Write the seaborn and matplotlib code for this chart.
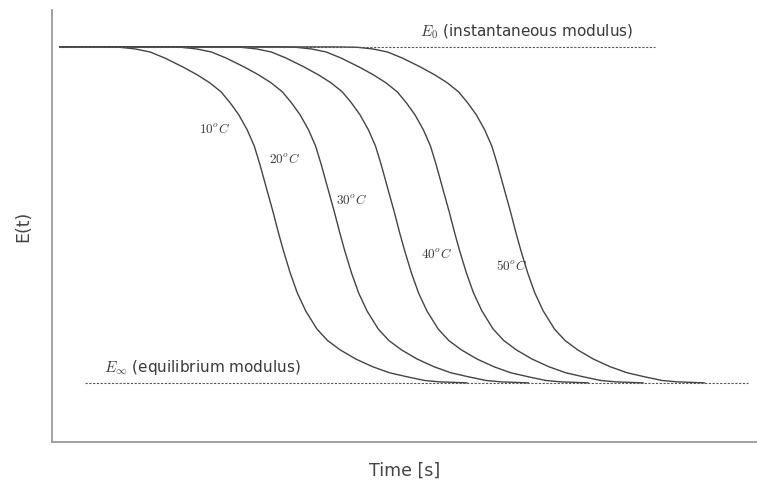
import numpy as np
import pandas as pd
import matplotlib
matplotlib.use("Agg")
import matplotlib.pyplot as plt
import seaborn as sns

# master curve (10°C): time and normalised modulus
t_master = [0.11, 0.68, 0.96, 1.18, 1.39, 1.60, 1.86, 2.06, 2.24, 2.40,
            2.53, 2.65, 2.77, 2.87, 2.95, 3.05, 3.14, 3.21, 3.28, 3.38,
            3.48, 3.60, 3.76, 3.91, 4.09, 4.31, 4.55, 4.79, 5.04, 5.29,
            5.50, 5.89]
e_master = [1.000, 1.000, 0.999, 0.994, 0.985, 0.967, 0.940, 0.917, 0.893, 0.866,
            0.833, 0.798, 0.753, 0.705, 0.650, 0.574, 0.506, 0.449, 0.396, 0.327,
            0.268, 0.214, 0.160, 0.126, 0.098, 0.071, 0.048, 0.030, 0.018, 0.007,
            0.003, 0.000]

temperaturas = ['10', '20', '30', '40', '50']
deslocamentos = [0.0, 0.87, 1.72, 2.50, 3.37]   # shift along time axis
pos_rotulos = [(2.31, 0.755), (3.30, 0.666), (4.25, 0.545), (5.45, 0.385), (6.52, 0.347)]

E0, Einf = 1.0, 0.0
e0_span = (0.11, 8.55)
einf_span = (0.47, 9.87)

sns.set_style("white")
plt.rcParams['font.family'] = ['DejaVu Sans']
plt.rcParams['mathtext.fontset'] = 'cm'

fig = plt.figure(figsize=(7.57, 4.84), dpi=100)
ax = fig.add_axes([0.0687, 0.0868, 0.931, 0.8926])

linhas = []
for temp, d in zip(temperaturas, deslocamentos):
    t = [t_master[0]] + [v + d for v in t_master[1:]]
    linhas.append(pd.DataFrame({'t': t, 'E': e_master, 'T': temp}))
df = pd.concat(linhas, ignore_index=True)

sns.lineplot(data=df, x='t', y='E', hue='T', units='T', estimator=None,
             palette=['#444444'] * len(temperaturas), linewidth=1.0,
             legend=False, sort=False, ax=ax)

ax.hlines(E0, *e0_span, colors='#555555', linestyles=(0, (2, 1.4)), linewidth=0.8)
ax.hlines(Einf, *einf_span, colors='#555555', linestyles=(0, (2, 1.4)), linewidth=0.8)

for temp, (x, y) in zip(temperaturas, pos_rotulos):
    ax.text(x, y, r'$%s^oC$' % temp, fontsize=9.5, color='#3a3a3a', ha='center', va='center')

ax.text(5.22, 1.045, r'$E_0$ (instantaneous modulus)', fontsize=11, color='#3a3a3a',
        ha='left', va='center')
ax.text(0.74, 0.045, r'$E_\infty$ (equilibrium modulus)', fontsize=11, color='#3a3a3a',
        ha='left', va='center')

ax.set_xlim(0, 10)
ax.set_ylim(-0.176, 1.11)
ax.set_xticks([])
ax.set_yticks([])
ax.set_xlabel('Time [s]', fontsize=12.5, color='#444444', labelpad=14)
ax.set_ylabel('E(t)', fontsize=12.5, color='#444444', labelpad=14)

for lado in ['top', 'right']:
    ax.spines[lado].set_visible(False)
for lado in ['left', 'bottom']:
    ax.spines[lado].set_color('#9a9a9a')
    ax.spines[lado].set_linewidth(1.3)

fig.savefig('out.png', dpi=100)
